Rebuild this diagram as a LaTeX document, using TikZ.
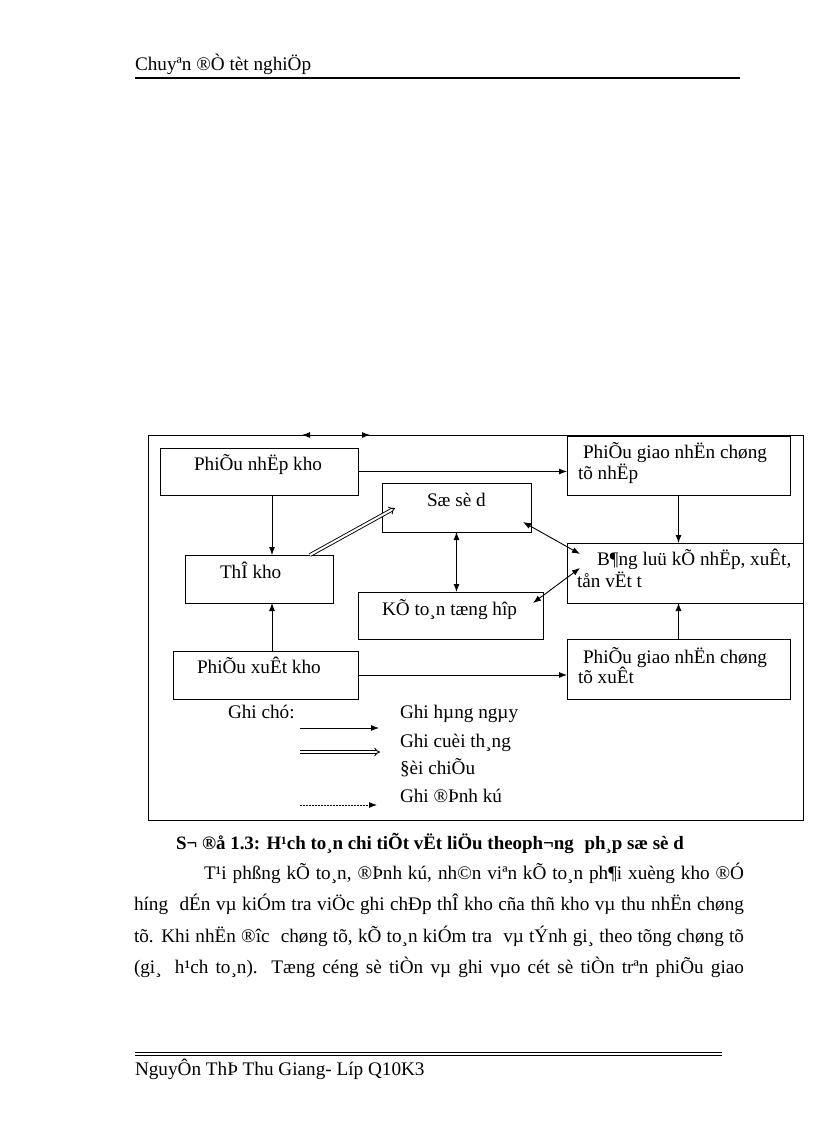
\documentclass[tikz,border=0pt]{standalone}
\usepackage{fontspec}
\setmainfont{Liberation Serif}
\usetikzlibrary{arrows.meta,calc}
\newcommand\fs{\fontsize{19.2pt}{23pt}\selectfont}
\newcommand\fsc{\fontsize{18.9pt}{23pt}\selectfont}
\begin{document}
\begin{tikzpicture}[x=1pt,y=-1pt,
  every node/.style={inner sep=0pt, outer sep=0pt},
  box/.style={draw, line width=0.9pt, rectangle},
  txt/.style={anchor=base west, font=\fs},
  arr/.style={line width=0.9pt, -{Latex[length=8pt,width=6pt]}},
  biarr/.style={line width=0.9pt, {Latex[length=8pt,width=6pt]}-{Latex[length=8pt,width=6pt]}},
  dbl/.style={double, double distance=2pt, line width=0.9pt, -{Implies[length=8pt,width=12pt]}},
  dotarr/.style={line width=0.9pt, dash pattern=on 1.5pt off 1.5pt, -{Latex[length=8pt,width=6pt]}}
]
\useasboundingbox[fill=white] (0,0) rectangle (816,1123);

% header
\node[txt] (hdr) at (135,71) {Chuyªn ®Ò tèt nghiÖp};
\coordinate (hl1) at (135,78);
\coordinate (hl2) at (740,78);
\draw[line width=1.8pt] (hl1) -- (hl2);

% frame
\node[box, minimum width=655pt, minimum height=385pt] (frame) at (475.5,627.5) {};
\coordinate (ta) at ($(frame.north west)+(154,0)$);
\coordinate (tb) at ($(frame.north west)+(222,0)$);
\draw[biarr] (ta) -- (tb);

% boxes
\node[box, minimum width=198pt, minimum height=47pt] (nk) at (259,471.5) {};
\node[box, minimum width=223pt, minimum height=59pt] (gnn) at (678.5,465.5) {};
\node[box, minimum width=149pt, minimum height=49pt] (ssd) at (456.5,507.5) {};
\node[box, minimum width=148pt, minimum height=48pt] (tk) at (259,579) {};
\node[box, minimum width=236pt, minimum height=60pt] (bl) at (685,573) {};
\node[box, minimum width=185pt, minimum height=47pt] (ktth) at (450.5,615.5) {};
\node[box, minimum width=185pt, minimum height=48pt] (xk) at (265.5,675) {};
\node[box, minimum width=223pt, minimum height=60pt] (gnx) at (678.5,669) {};

% box texts
\node[txt] (t-nk) at (194,470) {PhiÕu nhËp kho};
\node[txt] (t-gnn1) at (583,458) {PhiÕu giao nhËn chøng};
\node[txt] (t-gnn2) at (578,479) {tõ nhËp};
\node[txt] (t-ssd) at (427,506) {Sæ sè d};
\node[txt] (t-tk) at (220,578) {ThÎ kho};
\node[txt] (t-bl1) at (597,565) {B¶ng luü kÕ nhËp, xuÊt,};
\node[txt] (t-bl2) at (577,587) {tån vËt t};
\node[txt] (t-ktth) at (382,615) {KÕ to¸n tæng hîp};
\node[txt] (t-xk) at (197,673) {PhiÕu xuÊt kho};
\node[txt] (t-gnx1) at (583,663) {PhiÕu giao nhËn chøng};
\node[txt] (t-gnx2) at (578,683) {tõ xuÊt};

% connectors
\coordinate (cx) at (272,0);
\draw[arr] (nk.south -| cx) -- (tk.north -| cx);
\draw[arr] (xk.north -| cx) -- (tk.south -| cx);
\draw[arr] (nk.east) -- (nk.east -| gnn.west);
\draw[arr] (xk.east) -- (xk.east -| gnx.west);
\draw[arr] (gnn.south) -- (gnn.south |- bl.north);
\draw[arr] (gnx.north) -- (gnx.north |- bl.south);
\draw[biarr] (ssd.south) -- (ssd.south |- ktth.north);
\draw[dbl] ($(tk.north)+(51,0)$) -- ($(ssd.west)+(13,0.5)$);
\draw[biarr] ($(ssd.south east)+(-8,-10)$) -- ($(bl.north west)+(13,11)$);
\draw[biarr] ($(ktth.north east)+(-10,11)$) -- ($(bl.west)+(13,-5)$);

% legend
\node[txt] (lg) at (228,718) {Ghi chó:};
\node[txt] (lg1) at (400,718) {Ghi hµng ngµy};
\node[txt] (lg2) at (400,747) {Ghi cuèi th¸ng};
\node[txt] (lg3) at (400,774) {§èi chiÕu};
\node[txt] (lg4) at (400,802) {Ghi ®Þnh kú};
\coordinate (la1) at (300,728); \coordinate (lb1) at (379,728);
\coordinate (la2) at (300,752); \coordinate (lb2) at (380,752);
\coordinate (la3) at (300,805); \coordinate (lb3) at (377,805);
\draw[arr] (la1) -- (lb1);
\draw[dbl] (la2) -- (lb2);
\draw[dotarr] (la3) -- (lb3);

% caption
\node[txt, font=\fsc\bfseries] (cap) at (176,849) {S¬ ®å 1.3: H¹ch to¸n chi tiÕt vËt liÖu theoph¬ng\hspace{6pt} ph¸p sæ sè d};

% paragraph
\node[txt] (p1) at (204,879) {\hbox to 540pt{T¹i phßng kÕ to¸n, ®Þnh kú, nh©n viªn kÕ to¸n ph¶i xuèng kho ®Ó}};
\node[txt] (p2) at (134,910) {\hbox to 610pt{híng\hspace{6pt} dÉn vµ kiÓm tra viÖc ghi chÐp thÎ kho cña thñ kho vµ thu nhËn chøng}};
\node[txt] (p3) at (134,942) {\hbox to 610pt{tõ. Khi nhËn ®îc\hspace{6pt} chøng tõ, kÕ to¸n kiÓm tra\hspace{6pt} vµ tÝnh gi¸ theo tõng chøng tõ}};
\node[txt] (p4) at (134,973) {\hbox to 610pt{(gi¸\hspace{6pt} h¹ch to¸n). Tæng céng sè tiÒn vµ ghi vµo cét sè tiÒn trªn phiÕu giao}};

% footer
\coordinate (f1a) at (135,1052.5); \coordinate (f1b) at (722,1052.5);
\coordinate (f2a) at (135,1055.5); \coordinate (f2b) at (722,1055.5);
\draw[line width=0.8pt] (f1a) -- (f1b);
\draw[line width=0.8pt] (f2a) -- (f2b);
\node[txt] (ftr) at (135,1075) {NguyÔn ThÞ Thu Giang- Líp Q10K3};
\end{tikzpicture}
\end{document}
